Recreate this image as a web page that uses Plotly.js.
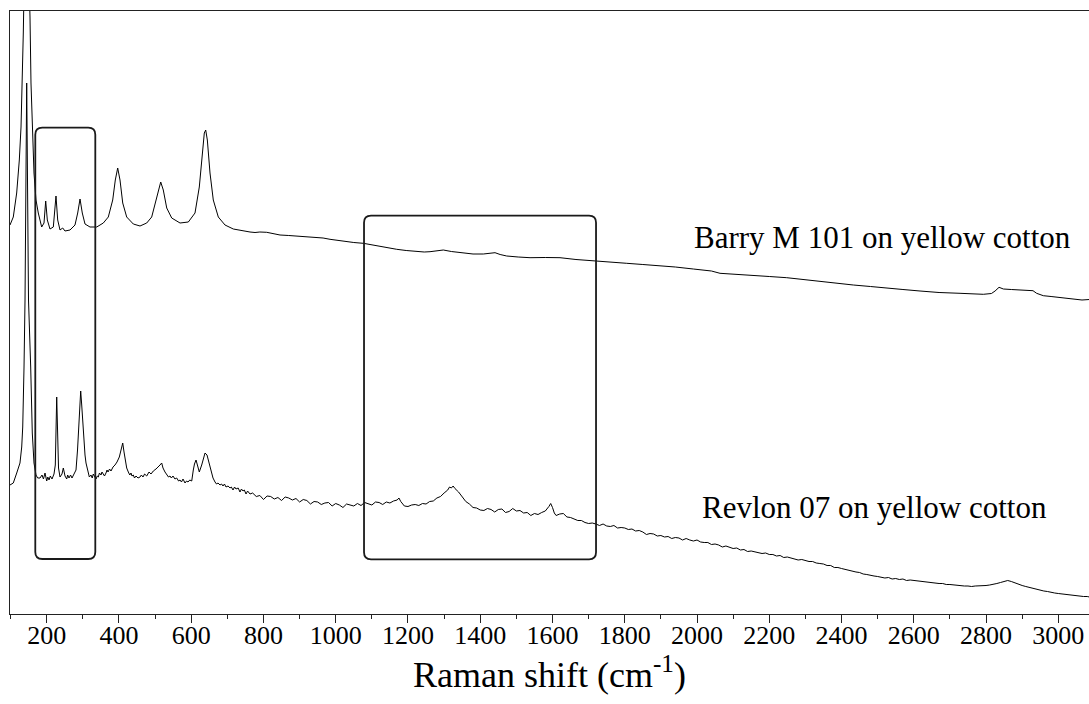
<!DOCTYPE html>
<html>
<head>
<meta charset="utf-8">
<script src="https://cdn.plot.ly/plotly-3.0.1.min.js"></script>
<style>html,body{margin:0;padding:0;background:#fff;}#chart{width:1089px;height:704px;}</style>
</head>
<body>
<div id="chart"></div>
<script>
// Raman spectra: [wavenumber (cm-1), intensity (a.u.)]
const barrySpectrum = [[98.4,389],[107.5,397],[116.9,421],[124.2,454],[128.9,487],[132.5,531],[135.2,581],[139,660],[144,720],[149,660],[153.8,597],[156.5,531],[160.1,481],[164.8,441],[170.4,414],[176.7,401],[186.1,387],[192.5,391],[197.2,413],[201.7,394],[209.1,385],[218.3,387],[225.7,418],[230.4,394],[236.8,384],[244.3,386],[250.6,383],[264.5,384],[278.3,389],[285.8,401],[292.2,415],[298.5,401],[306,390],[319.8,387],[338.4,387],[356.7,391],[370.5,397],[382.7,414],[389.9,434],[396.5,446],[402.9,434],[410.4,411],[421.4,397],[439.7,390],[458.3,388],[476.8,391],[490.6,397],[502.5,414],[510,427],[515.6,432],[522.7,424],[532.2,406],[546,396],[569,391],[592,392],[610.5,401],[622.4,427],[630.7,457],[636.2,481],[640.1,484],[644.6,474],[652,441],[661.1,414],[675,397],[693.5,389],[716.5,385],[744.2,383],[762.7,382],[776.6,381.5],[790,382],[809,381.7],[830,380],[845.8,379],[870,378.5],[892,378],[920,377.5],[947.3,376.7],[965,376],[984.2,374.7],[1005,373.5],[1030.4,372.3],[1050,371.5],[1076.4,370.7],[1100,369],[1122.6,367.3],[1145,366],[1168.8,364.7],[1195,363.5],[1224.2,362.3],[1245,362],[1261,362.3],[1280,363],[1297.8,364],[1320,362.5],[1353.2,360.7],[1380,360],[1408.5,360],[1425,360.5],[1440.9,361.3],[1455,359.5],[1473.2,358],[1505,357],[1537.8,356.3],[1580,356.5],[1620.8,356.3],[1665,354.5],[1713,353],[1760,352],[1805.5,350.7],[1850,349.5],[1897.6,348.3],[1940,347],[1989.8,345],[2040,343],[2063.7,340.7],[2100,340],[2155.9,339],[2200,337.5],[2248.3,336.3],[2290,334.5],[2340.5,332.3],[2390,330.5],[2432.7,329],[2480,327.5],[2525.1,325.7],[2570,324.5],[2617.3,323],[2670,321.5],[2728,320.7],[2760,320],[2792.5,319.7],[2815,320.5],[2825,323],[2836,326.7],[2848,325],[2870,324.5],[2900,324],[2930,323.3],[2940,320.7],[2958.5,318.3],[2980,317.5],[3004.8,316.3],[3035,315],[3065.6,314],[3086,314.5]];

const revlonSpectrum = [[98.4,129],[107.5,131],[117,141],[126,151],[130.8,167],[133.6,187],[137.2,247],[140,314],[144.6,531],[149.6,314],[155.7,247],[160.1,181],[164.8,151],[170.4,139],[175,136],[181.5,136],[187,139],[191,135],[195.3,141],[200,133],[203,137],[206.4,134],[210,138],[214.7,135],[220.2,140],[223.8,149],[227.7,217],[230.4,174],[232.7,146],[236.8,137],[242.3,140],[246,146],[250.7,138],[255.4,135],[258,139],[261.7,136],[266,139],[270,136],[275.6,140],[281.1,144],[285.3,164],[287.5,181],[290.8,209],[294.1,223],[296.9,209],[301.3,181],[306,159],[308.8,151],[315.1,141],[318,137],[322.6,139],[326,136],[329,140],[333,137],[336.5,135],[340,138],[342.8,137],[346,141],[350.3,139],[353,142],[356.7,140],[360,138],[364.1,141],[367,144],[369.7,142],[374,145],[378,143],[383.5,147],[389,149],[394.6,152],[401,157],[405.7,164],[410.4,171],[414,162],[416.7,154],[421.4,146],[425.9,142],[430,139],[433.3,141],[436,138],[439.7,139],[443,136],[447.2,138],[452.7,136],[458.3,137],[462,139],[466.5,137],[471,140],[476.8,138],[483.2,142],[488.7,140],[495.1,143],[502.5,145],[508.9,148],[513.6,149],[518.3,151],[521.9,146],[527.4,142],[533,139],[537,137],[541.3,138],[545,136],[549.6,138],[555,135],[559.8,136],[565,133],[569,134],[573,132],[577.3,135],[582.8,131],[587,133],[591.1,132],[596,134],[601.4,133],[605.8,144],[609,150],[613.3,154],[617.4,148],[622.4,142],[629,149],[634,157],[638.2,161],[643.7,159],[649.2,152],[654,144],[660.3,136],[665.9,132],[670,130],[674.2,131],[679.7,129],[684,130],[688,128],[692,130],[696.3,127],[702,128],[707.4,126],[711,127],[715.7,124],[720,127],[724,125],[730,126],[735,122],[739,125],[743.3,123],[747,124],[751.7,120],[756,123],[762.7,120],
[770,121],[780,117.5],[790,118.5],[800,114.5],[810,118],[820,117.5],[830,115],[840,116.5],[850,113.5],[860,117],[870,116],[880,114],[890,115.5],[900,112],[910,114.5],[920,113.5],[930,110],[940,112.5],[950,112],[960,109.5],[970,111],[980,111.5],[990,108],[1000,110.5],[1010,109],[1020,106.5],[1030,110],[1040,109],[1050,108],[1060,110.5],[1070,108.5],[1080,111.5],[1090,110],[1100,109],[1110,112],[1120,111.5],[1130,109.5],[1140,112],[1150,111],[1160,113],[1170,114],[1175,116],[1180,112.5],[1190,108],[1200,107.5],[1210,109],[1220,109.5],[1230,108.5],[1240,110.5],[1250,110],[1260,112.5],[1270,113],[1280,116],[1290,117.5],[1300,121],[1310,124],[1315,127],[1320,126],[1325,128],[1330,125.5],[1340,122],[1350,117],[1360,112.5],[1370,110],[1380,106.5],[1390,106],[1400,104],[1410,103.5],[1420,105.5],[1430,104.5],[1440,102],[1450,104.5],[1460,105],[1470,101.5],[1480,102.5],[1490,105.5],[1500,103],[1510,103.5],[1520,101],[1530,101.5],[1540,98.5],[1550,100.5],[1560,99.5],[1570,101.5],[1580,103],[1590,107.5],[1595,110.5],[1600,106.5],[1605,101],[1610,98.5],[1620,100],[1630,100.5],[1635,99],[1640,97],[1650,96.5],[1660,95],[1670,93.5],[1680,93.5],[1690,91.5],[1700,90.5],[1710,91],[1720,90],[1730,88.5],[1740,90],[1750,88],[1760,87.5],[1770,88.5],[1780,86],[1790,86.5],[1800,86],[1810,84.5],[1820,85],[1830,83],[1840,83.5],[1850,82],[1860,79.5],[1870,80.5],[1880,80],[1890,78],[1900,78.5],[1910,77],[1920,77.5],[1930,75.5],[1940,76.5],[1950,76],[1960,74],[1970,75.5],[1980,74],[1990,73],[2000,74],[2010,72],[2020,71.5],[2030,71.5],[2040,69.5],[2050,70],[2060,69],[2070,67],[2080,68],[2090,66.5],[2100,65.5],[2110,66],[2120,64],[2130,64.5],[2140,62.5],[2150,63],[2160,62],[2170,61.5],[2180,60.5],[2190,61],[2200,59.5],[2210,59.5],[2220,58],[2230,58.5],[2240,56.5],[2250,57],[2260,56],[2270,55.5],[2280,54],[2290,54.5],[2300,53.5],[2310,52.5],[2320,52.5],[2330,51],[2340,50.5],[2350,50],[2360,48.5],[2370,48.5],[2380,46.5],[2390,46.5],[2400,45.5],[2410,44.5],[2420,44],[2430,42.5],[2440,42],[2450,41.5],[2460,40],[2470,39.5],[2480,38.5],[2490,38],[2500,37.5],[2510,37],[2520,36],[2530,36.5],[2540,35],[2550,35.5],[2560,34.5],[2570,35],[2580,33.5],[2590,34],[2600,33.5],[2610,33],[2620,32.5],[2630,32.5],[2640,31.5],[2650,31.5],[2660,31],[2670,30.5],[2680,30.5],[2690,29.5],[2700,29.5],[2710,29],[2720,28.5],[2730,28.5],[2740,28],[2750,28],[2760,27.5],[2770,28],[2780,28],[2790,28.5],[2800,28.5],[2810,29],[2820,29.5],[2830,30.5],[2840,31.5],[2850,32.5],[2860,33.5],[2870,32.5],[2880,31],[2890,29.5],[2900,28.5],[2910,27.5],[2920,26.5],[2930,26],[2940,25],[2950,24],[2960,23],[2970,22.5],[2980,21.5],[2990,21],[3000,20.5],[3010,20],[3020,19.5],[3030,19],[3040,18.5],[3050,18.5],[3060,18],[3070,17.5],[3080,17.5],[3086,17]];

const seriesLabels = ["Barry M 101 on yellow cotton", "Revlon 07 on yellow cotton"];
const labelAnchors = [[1986, 377], [2008, 107]];
// highlighted regions: [x0, x1, y0, y1] in axis units
const highlightBoxes = [[168.4, 334.5, 55, 486.3], [1078.3, 1720.5, 54.7, 398.3]];
const xRange = [98.4, 3085];
const yRange = [0, 603];

const serif = "Liberation Serif, serif";

function roundedRect(b, rx, ry) {
  const [x0, x1, y0, y1] = b;
  return `M${x0+rx},${y1} L${x1-rx},${y1} Q${x1},${y1} ${x1},${y1-ry} L${x1},${y0+ry} Q${x1},${y0} ${x1-rx},${y0} L${x0+rx},${y0} Q${x0},${y0} ${x0},${y0+ry} L${x0},${y1-ry} Q${x0},${y1} ${x0+rx},${y1} Z`;
}

const traces = [barrySpectrum, revlonSpectrum].map((s, i) => ({
  type: 'scatter', mode: 'lines', name: seriesLabels[i],
  x: s.map(p => p[0]), y: s.map(p => p[1]),
  line: {color: '#000', width: 1}, hoverinfo: 'x+y'
}));

const pxPerX = 1079 / (xRange[1] - xRange[0]);
const pxPerY = 603 / (yRange[1] - yRange[0]);
const rPx = 7;

const layout = {
  width: 1089, height: 704,
  margin: {l: 10, r: 0, t: 11, b: 90},
  paper_bgcolor: '#fff', plot_bgcolor: '#fff',
  showlegend: false,
  font: {family: serif, color: '#000'},
  xaxis: {
    range: xRange, showgrid: false, zeroline: false,
    showline: true, mirror: true, linecolor: '#222', linewidth: 1,
    ticks: 'outside', ticklen: 8, tickwidth: 1, tickcolor: '#222',
    tick0: 0, dtick: 200, ticklabelstandoff: -10,
    minor: {dtick: 100, ticks: 'outside', ticklen: 4, tickwidth: 1, tickcolor: '#222'},
    tickfont: {family: serif, size: 26, color: '#000'},
    title: {text: 'Raman shift (cm<sup>-1</sup>)', font: {family: serif, size: 36, color: '#000'}, standoff: 10}
  },
  yaxis: {
    range: yRange, showgrid: false, zeroline: false,
    showline: true, linecolor: '#222', linewidth: 1,
    showticklabels: false, ticks: ''
  },
  shapes: highlightBoxes.map(b => ({
    type: 'path', xref: 'x', yref: 'y',
    path: roundedRect(b, rPx / pxPerX, rPx / pxPerY),
    line: {color: '#1a1a1a', width: 1.8}, fillcolor: 'rgba(0,0,0,0)'
  })),
  annotations: seriesLabels.map((t, i) => ({
    text: t, x: labelAnchors[i][0], y: labelAnchors[i][1], xref: 'x', yref: 'y',
    xanchor: 'left', yanchor: 'middle', showarrow: false,
    font: {family: serif, size: 31, color: '#000'}
  }))
};

Plotly.newPlot('chart', traces, layout, {displayModeBar: false, staticPlot: true});
</script>
</body>
</html>
